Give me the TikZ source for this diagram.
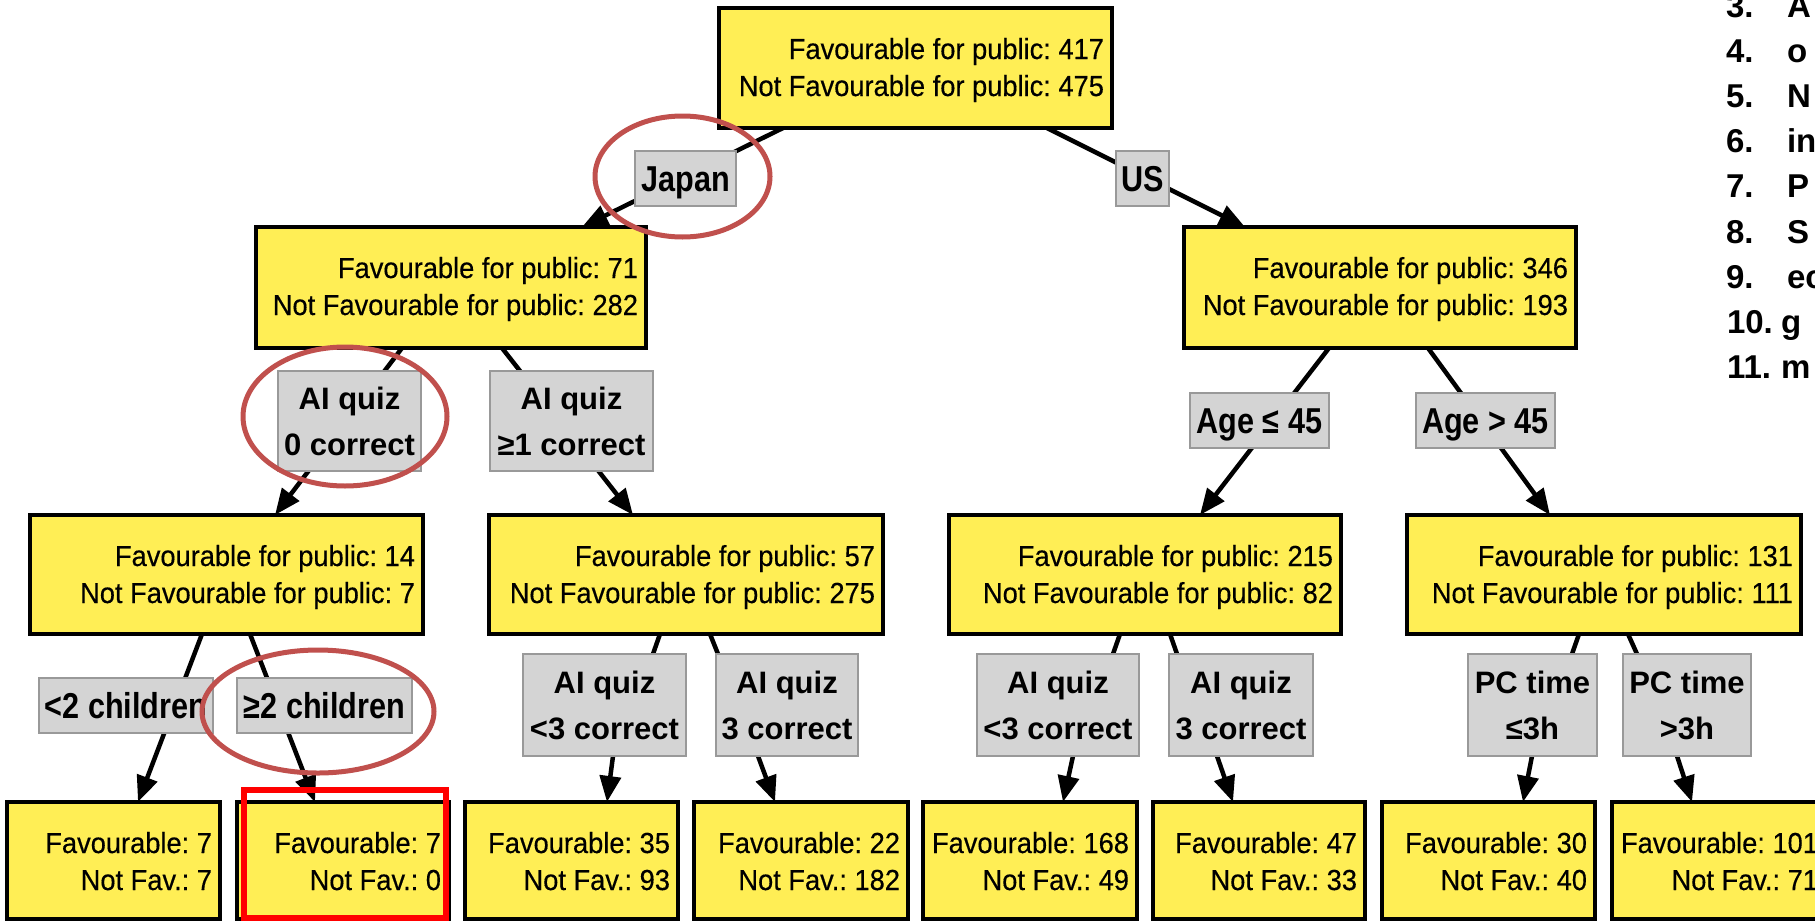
\documentclass[tikz,border=0pt]{standalone}
\usepackage{fontspec}
\setmainfont{Liberation Sans}
\newfontfamily\boxfont[FakeStretch=0.94,FakeBold=0.35]{Liberation Sans}
\newfontfamily\labfont[FakeStretch=0.85]{Liberation Sans}
\usetikzlibrary{arrows.meta,backgrounds}
\definecolor{boxyellow}{HTML}{FFEE55}
\definecolor{labgray}{HTML}{D4D4D4}
\definecolor{labedge}{HTML}{999999}
\definecolor{circred}{HTML}{C0504D}
\definecolor{hired}{HTML}{FF0000}
\tikzset{
  ybox/.style={rectangle, draw=black, fill=boxyellow, line width=3.5pt, inner sep=0pt, outer sep=0pt},
  ytext/.style={anchor=base east, inner sep=0pt, outer sep=0pt, font=\boxfont\fontsize{29}{37}\selectfont},
  glab/.style={rectangle, draw=labedge, fill=labgray, line width=1.5pt, inner sep=0pt, outer sep=0pt},
  glabone/.style={glab, font=\labfont\bfseries\fontsize{36}{40}\selectfont, text height=25.8pt, text depth=0pt},
  glabtwo/.style={glab, align=center, font=\bfseries\fontsize{31}{46}\selectfont},
  edge/.style={line width=4.5pt, line join=round, -{Triangle[length=26pt,width=21pt]}},
  ring/.style={draw=circred, line width=5pt},
  listtext/.style={anchor=base west, inner sep=0pt, outer sep=0pt, font=\bfseries\fontsize{33}{40}\selectfont},
}
% name, x1, y1, x2, y2, line1, line2
\newcommand\ybox[7]{%
  \node[ybox, minimum width={#4-#2}, minimum height={#5-#3}] (#1) at ({(#2+#4)/2},{(#3+#5)/2}) {};
  \node[ytext] (#1a) at ([xshift=-8pt,yshift=-51pt]#1.north east) {#6};
  \node[ytext] (#1b) at ([xshift=-8pt,yshift=-88pt]#1.north east) {#7};
}
% style, name, x1, y1, x2, y2, text
\newcommand\glabel[7]{%
  \node[#1, minimum width={#5-#3}, minimum height={#6-#4}] (#2) at ({(#3+#5)/2},{(#4+#6)/2}) {#7};
}
\frenchspacing
\begin{document}
\begin{tikzpicture}[x=1pt,y=-1pt]
\useasboundingbox (0,0) rectangle (1815,921);

% yellow nodes
\ybox{root}{719}{8}{1112}{128}{Favourable for public: 417}{Not Favourable for public: 475}
\ybox{jp}{256}{227}{646}{348}{Favourable for public: 71}{Not Favourable for public: 282}
\ybox{us}{1184}{227}{1576}{348}{Favourable for public: 346}{Not Favourable for public: 193}
\ybox{jqz}{30}{515}{423}{634}{Favourable for public: 14}{Not Favourable for public: 7}
\ybox{jqo}{489}{515}{883}{634}{Favourable for public: 57}{Not Favourable for public: 275}
\ybox{ya}{949}{515}{1341}{634}{Favourable for public: 215}{Not Favourable for public: 82}
\ybox{oa}{1407}{515}{1801}{634}{Favourable for public: 131}{Not Favourable for public: 111}
\ybox{ka}{7}{802}{220}{919}{Favourable: 7}{Not Fav.: 7}
\ybox{kb}{237}{802}{449}{919}{Favourable: 7}{Not Fav.: 0}
\ybox{qa}{465}{802}{678}{919}{Favourable: 35}{Not Fav.: 93}
\ybox{qb}{694}{802}{908}{919}{Favourable: 22}{Not Fav.: 182}
\ybox{ra}{923}{802}{1137}{919}{Favourable: 168}{Not Fav.: 49}
\ybox{rb}{1153}{802}{1365}{919}{Favourable: 47}{Not Fav.: 33}
\ybox{pa}{1382}{802}{1595}{919}{Favourable: 30}{Not Fav.: 40}
\ybox{pb}{1612}{802}{1826}{919}{Favourable: 101}{Not Fav.: 71}

% grey edge labels
\glabel{glabone}{lJapan}{635}{151}{736}{206}{Japan}
\glabel{glabone}{lUS}{1116}{151}{1169}{206}{US}
\glabel{glabtwo}{lqz}{278}{371}{421}{471}{AI quiz\\0 correct}
\glabel{glabtwo}{lqo}{490}{371}{653}{471}{AI quiz\\≥1 correct}
\glabel{glabone}{lyoung}{1190}{393}{1329}{448}{Age ≤ 45}
\glabel{glabone}{lold}{1416}{393}{1555}{448}{Age > 45}
\glabel{glabone}{lca}{39}{678}{213}{733}{<2 children}
\glabel{glabone}{lcb}{237}{678}{412}{733}{≥2 children}
\glabel{glabtwo}{lqa}{523}{654}{686}{756}{AI quiz\\<3 correct}
\glabel{glabtwo}{lqb}{716}{654}{858}{756}{AI quiz\\3 correct}
\glabel{glabtwo}{lqc}{977}{654}{1139}{756}{AI quiz\\<3 correct}
\glabel{glabtwo}{lqd}{1169}{654}{1313}{756}{AI quiz\\3 correct}
\glabel{glabtwo}{lpa}{1468}{654}{1597}{756}{PC time\\≤3h}
\glabel{glabtwo}{lpb}{1623}{654}{1751}{756}{PC time\\>3h}

% connectors
\begin{scope}[on background layer]
\draw[edge] (root.south -| 783,0) -- (jp.north -| 582,0);
\draw[edge] (root.south -| 1047,0) -- (us.north -| 1245,0);
\draw[edge] (jp.south -| 402,0) -- (jqz.north -| 275,0);
\draw[edge] (jp.south -| 502,0) -- (jqo.north -| 633,0);
\draw[edge] (us.south -| 1329,0) -- (ya.north -| 1200,0);
\draw[edge] (us.south -| 1428,0) -- (oa.north -| 1550,0);
\draw[edge] (jqz.south -| 202,0) -- (ka.north -| 138,0);
\draw[edge] (jqz.south -| 250,0) -- (kb.north -| 315,0);
\draw[edge] (jqo.south -| 660,0) -- (lqa.north -| 653,0) -- (lqa.south -| 613,0) -- (qa.north -| 607,0);
\draw[edge] (jqo.south -| 710,0) -- (lqb.north -| 718,0) -- (lqb.south -| 758,0) -- (qb.north -| 775,0);
\draw[edge] (ya.south -| 1120,0) -- (lqc.north -| 1113,0) -- (lqc.south -| 1073,0) -- (ra.north -| 1063,0);
\draw[edge] (ya.south -| 1170,0) -- (lqd.north -| 1177,0) -- (lqd.south -| 1217,0) -- (rb.north -| 1233,0);
\draw[edge] (oa.south -| 1579,0) -- (lpa.north -| 1572,0) -- (lpa.south -| 1532,0) -- (pa.north -| 1523,0);
\draw[edge] (oa.south -| 1628,0) -- (lpb.north -| 1637,0) -- (lpb.south -| 1677,0) -- (pb.north -| 1692,0);
\end{scope}

% highlights
\draw[ring] (682.5,176.5) ellipse [x radius=87.5, y radius=60.5];
\draw[ring] (345,416.5) ellipse [x radius=102, y radius=69.5];
\draw[ring] (318,711.5) ellipse [x radius=116, y radius=61.5];
\draw[hired, line width=6pt] (244,790) rectangle (446,918);

% list at the right edge
\node[listtext] (nthree) at (1726,17) {3.};   \node[listtext] (wthree) at (1787,17) {A};
\node[listtext] (nfour) at (1726,62) {4.};    \node[listtext] (wfour) at (1787,62) {o};
\node[listtext] (nfive) at (1726,107) {5.};   \node[listtext] (wfive) at (1787,107) {N};
\node[listtext] (nsix) at (1726,152) {6.};    \node[listtext] (wsix) at (1787,152) {in};
\node[listtext] (nseven) at (1726,197) {7.};  \node[listtext] (wseven) at (1787,197) {P};
\node[listtext] (neight) at (1726,243) {8.};  \node[listtext] (weight) at (1787,243) {S};
\node[listtext] (nnine) at (1726,288) {9.};   \node[listtext] (wnine) at (1787,288) {ec};
\node[listtext] (nten) at (1727,333) {10.};   \node[listtext] (wten) at (1781,333) {g};
\node[listtext] (neleven) at (1727,378) {11.};\node[listtext] (weleven) at (1781,378) {m};
\end{tikzpicture}
\end{document}
